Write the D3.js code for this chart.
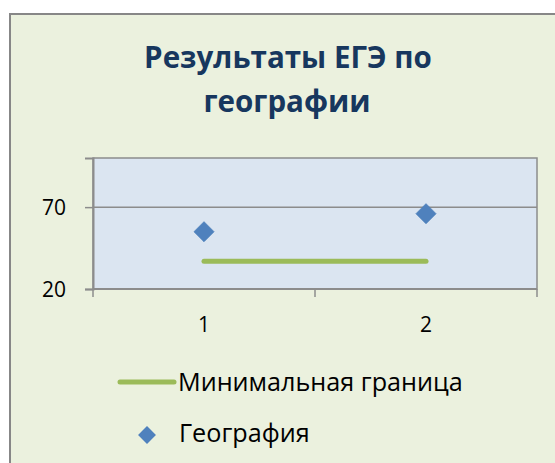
<!DOCTYPE html>
<html>
<head>
<meta charset="utf-8">
<script src="https://cdn.jsdelivr.net/npm/d3@7"></script>
<style>
  body { margin: 0; background: #fff; }
  text { font-family: "Open Sans", sans-serif; }
</style>
</head>
<body>
<div id="chart"></div>
<script>
// data
var categories = ["1", "2"];
var geographyValues = [55, 66];
var minimumValues = [37, 37];
var yTicks = [20, 70];
var titleLines = ["Результаты ЕГЭ по", "географии"];
var seriesNames = ["Минимальная граница", "География"];

var W = 555, H = 463;
var plot = {left: 93, right: 537, top: 158, bottom: 289};

var svg = d3.select("#chart").append("svg")
    .attr("width", W)
    .attr("height", H);

// chart area, runs off the right and bottom edge
svg.append("rect")
    .attr("x", 10).attr("y", 14)
    .attr("width", 560).attr("height", 470)
    .attr("fill", "#EBF1DE")
    .attr("stroke", "#878787")
    .attr("stroke-width", 2);

// fit a text element to a width measured on the picture
function fit(sel, target) {
    var w = sel.node().getComputedTextLength();
    var fs = parseFloat(sel.attr("font-size"));
    sel.attr("font-size", fs * target / w);
}

// title
var t1 = svg.append("text")
    .attr("x", 288).attr("y", 68)
    .attr("text-anchor", "middle")
    .attr("font-size", 24).attr("font-weight", "bold")
    .attr("fill", "#17375E")
    .text(titleLines[0]);
fit(t1, 288);
svg.append("text")
    .attr("x", 287).attr("y", 112)
    .attr("text-anchor", "middle")
    .attr("font-size", t1.attr("font-size")).attr("font-weight", "bold")
    .attr("fill", "#17375E")
    .text(titleLines[1]);

var x = d3.scaleBand().domain(categories).range([plot.left, plot.right]);
var y = d3.scaleLinear().domain([20, 100]).range([plot.bottom, plot.top]);

// plot area
svg.append("rect")
    .attr("x", plot.left).attr("y", plot.top)
    .attr("width", plot.right - plot.left).attr("height", plot.bottom - plot.top)
    .attr("fill", "#DBE5F1")
    .attr("stroke", "#8C8C8C")
    .attr("stroke-width", 1.5);

// gridlines
svg.selectAll(".grid")
    .data(yTicks.filter(function(d) { return d > 20; }))
    .enter().append("line")
    .attr("x1", plot.left).attr("x2", plot.right)
    .attr("y1", function(d) { return y(d); })
    .attr("y2", function(d) { return y(d); })
    .attr("stroke", "#8C8C8C")
    .attr("stroke-width", 1.5);

// y axis
var yAxis = svg.append("g")
    .attr("transform", "translate(" + plot.left + ",0)")
    .call(d3.axisLeft(y).tickValues(yTicks).tickSize(8).tickPadding(19));
yAxis.select(".domain").attr("stroke", "#8C8C8C").attr("stroke-width", 2);
yAxis.selectAll(".tick line").attr("stroke", "#8C8C8C").attr("stroke-width", 1.5);
yAxis.selectAll("text")
    .attr("font-size", 21)
    .attr("font-family", "Open Sans, sans-serif")
    .attr("fill", "#000")
    .attr("dy", "0.36em");

// x axis: ticks between categories, labels at band centres
var xAxis = svg.append("g")
    .attr("transform", "translate(0," + plot.bottom + ")");
xAxis.append("line")
    .attr("x1", plot.left).attr("x2", plot.right)
    .attr("stroke", "#8C8C8C").attr("stroke-width", 2);
var xTickPos = categories.map(function(c) { return x(c); }).concat([plot.right]);
xAxis.selectAll(".xt")
    .data(xTickPos)
    .enter().append("line")
    .attr("x1", function(d) { return d; }).attr("x2", function(d) { return d; })
    .attr("y1", 0).attr("y2", 8)
    .attr("stroke", "#8C8C8C").attr("stroke-width", 1.5);
xAxis.selectAll(".xl")
    .data(categories)
    .enter().append("text")
    .attr("x", function(d) { return x(d) + x.bandwidth() / 2; })
    .attr("y", 43)
    .attr("text-anchor", "middle")
    .attr("font-size", 21)
    .attr("fill", "#000")
    .text(function(d) { return d; });

// minimum line
var line = d3.line()
    .x(function(d, i) { return x(categories[i]) + x.bandwidth() / 2; })
    .y(function(d) { return y(d); });
svg.append("path")
    .datum(minimumValues)
    .attr("d", line)
    .attr("fill", "none")
    .attr("stroke", "#9BBB59")
    .attr("stroke-width", 5)
    .attr("stroke-linecap", "round");

// geography points
var diamond = d3.symbol().type(d3.symbolSquare).size(200);
svg.selectAll(".pt")
    .data(geographyValues)
    .enter().append("path")
    .attr("d", diamond)
    .attr("transform", function(d, i) {
        return "translate(" + (x(categories[i]) + x.bandwidth() / 2) + "," + y(d) + ") rotate(45)";
    })
    .attr("fill", "#4F81BD")
    .attr("stroke", "#4A7EBB")
    .attr("stroke-width", 0.8);

// legend
var lg = svg.append("g");
lg.append("line")
    .attr("x1", 120).attr("x2", 174)
    .attr("y1", 382).attr("y2", 382)
    .attr("stroke", "#9BBB59").attr("stroke-width", 5)
    .attr("stroke-linecap", "round");
var l1 = lg.append("text")
    .attr("x", 178).attr("y", 391)
    .attr("font-size", 24)
    .attr("fill", "#000")
    .text(seriesNames[0]);
fit(l1, 285);
lg.append("path")
    .attr("d", d3.symbol().type(d3.symbolSquare).size(160))
    .attr("transform", "translate(147,435) rotate(45)")
    .attr("fill", "#4F81BD");
lg.append("text")
    .attr("x", 179).attr("y", 442)
    .attr("font-size", l1.attr("font-size"))
    .attr("fill", "#000")
    .text(seriesNames[1]);
</script>
</body>
</html>
